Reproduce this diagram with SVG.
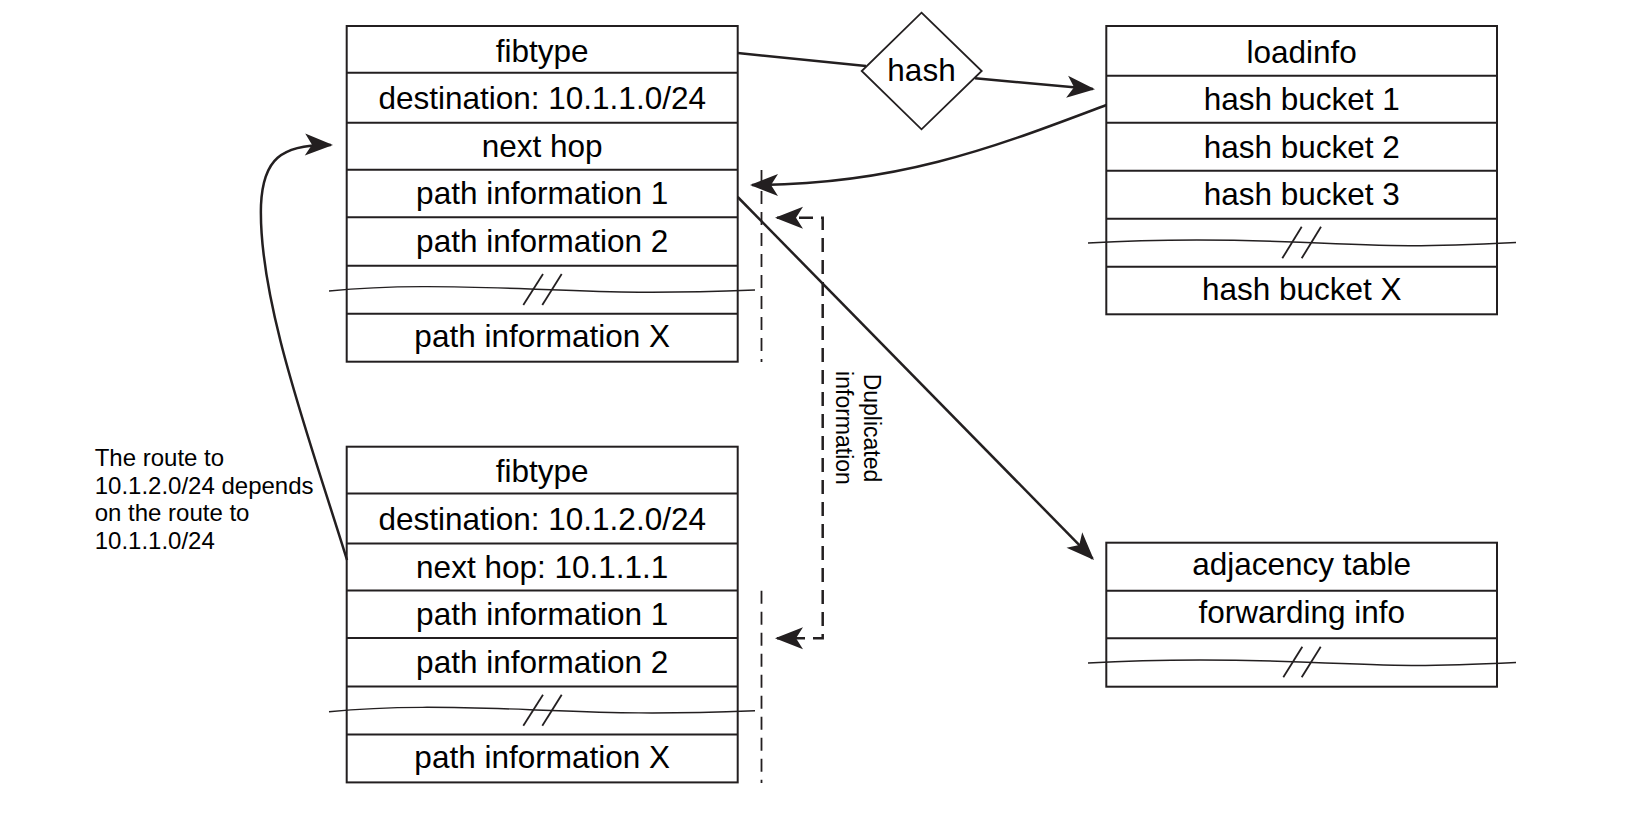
<svg xmlns="http://www.w3.org/2000/svg" width="1646" height="821" viewBox="0 0 1646 821">
<style>
.box{fill:#fff;stroke:#231f20;stroke-width:2}
.row{stroke:#231f20;stroke-width:2}
.t{font-family:"Liberation Sans",Arial,Helvetica,sans-serif;font-size:31.5px;fill:#000;text-anchor:middle}
.s{font-family:"Liberation Sans",Arial,Helvetica,sans-serif;font-size:24px;fill:#000}
.d{font-family:"Liberation Sans",Arial,Helvetica,sans-serif;font-size:23px;fill:#000;text-anchor:middle}
.sq{fill:none;stroke:#231f20;stroke-width:1.4}
.sl{stroke:#231f20;stroke-width:1.8}
.c{fill:none;stroke:#231f20;stroke-width:2.5}
.dash{fill:none;stroke:#231f20;stroke-width:1.8;stroke-dasharray:13 8}
.br{fill:none;stroke:#231f20;stroke-width:2.5;stroke-dasharray:14 8}
</style>
<defs>
<marker id="ah" markerUnits="userSpaceOnUse" markerWidth="30" markerHeight="24" refX="26" refY="11" orient="auto-start-reverse" overflow="visible">
<path d="M0,0 L28,11 L0,22 L7,11 Z" fill="#231f20" stroke="none"/>
</marker>
</defs>

<g id="fib1">
<rect class="box" x="346.7" y="26" width="391" height="335.7"/>
<line class="row" x1="346.7" y1="72.7" x2="737.7" y2="72.7"/>
<line class="row" x1="346.7" y1="122.7" x2="737.7" y2="122.7"/>
<line class="row" x1="346.7" y1="169.7" x2="737.7" y2="169.7"/>
<line class="row" x1="346.7" y1="217.3" x2="737.7" y2="217.3"/>
<line class="row" x1="346.7" y1="265.7" x2="737.7" y2="265.7"/>
<line class="row" x1="346.7" y1="313.7" x2="737.7" y2="313.7"/>
<text class="t" x="542.2" y="61.7">fibtype</text>
<text class="t" x="542.2" y="109.3">destination: 10.1.1.0/24</text>
<text class="t" x="542.2" y="156.7">next hop</text>
<text class="t" x="542.2" y="204">path information 1</text>
<text class="t" x="542.2" y="252.3">path information 2</text>
<text class="t" x="542.2" y="346.7">path information X</text>
<path class="sq" d="M329,291 C390,285 450,286 530,289 S650,294 755,290"/>
<line class="sl" x1="523.3" y1="305" x2="543" y2="274"/>
<line class="sl" x1="542.3" y1="305" x2="561.7" y2="274"/>
<line class="dash" x1="761.5" y1="170" x2="761.5" y2="362"/>
</g>

<g id="fib2">
<rect class="box" x="346.7" y="446.7" width="391" height="335.7"/>
<line class="row" x1="346.7" y1="493.4" x2="737.7" y2="493.4"/>
<line class="row" x1="346.7" y1="543.4" x2="737.7" y2="543.4"/>
<line class="row" x1="346.7" y1="590.4" x2="737.7" y2="590.4"/>
<line class="row" x1="346.7" y1="638" x2="737.7" y2="638"/>
<line class="row" x1="346.7" y1="686.4" x2="737.7" y2="686.4"/>
<line class="row" x1="346.7" y1="734.4" x2="737.7" y2="734.4"/>
<text class="t" x="542.2" y="482">fibtype</text>
<text class="t" x="542.2" y="530">destination: 10.1.2.0/24</text>
<text class="t" x="542.2" y="577.6">next hop: 10.1.1.1</text>
<text class="t" x="542.2" y="624.7">path information 1</text>
<text class="t" x="542.2" y="673">path information 2</text>
<text class="t" x="542.2" y="767.8">path information X</text>
<path class="sq" d="M329,711.7 C390,705.7 450,706.7 530,709.7 S650,714.7 755,710.7"/>
<line class="sl" x1="523.3" y1="725.7" x2="543" y2="694.7"/>
<line class="sl" x1="542.3" y1="725.7" x2="561.7" y2="694.7"/>
<line class="dash" x1="761.5" y1="590.7" x2="761.5" y2="783"/>
</g>

<g id="hash">
<polygon points="921.5,12.7 981.7,71 921.5,129.3 861.7,71" fill="#fff" stroke="#231f20" stroke-width="1.8"/>
<text class="t" x="921.5" y="80.7">hash</text>
</g>

<g id="loadinfo">
<rect class="box" x="1106.3" y="26" width="390.7" height="288.3"/>
<line class="row" x1="1106.3" y1="75.7" x2="1497" y2="75.7"/>
<line class="row" x1="1106.3" y1="122.7" x2="1497" y2="122.7"/>
<line class="row" x1="1106.3" y1="170.7" x2="1497" y2="170.7"/>
<line class="row" x1="1106.3" y1="218.7" x2="1497" y2="218.7"/>
<line class="row" x1="1106.3" y1="266.7" x2="1497" y2="266.7"/>
<text class="t" x="1301.7" y="62.7">loadinfo</text>
<text class="t" x="1301.7" y="110">hash bucket 1</text>
<text class="t" x="1301.7" y="157.7">hash bucket 2</text>
<text class="t" x="1301.7" y="205">hash bucket 3</text>
<text class="t" x="1301.7" y="300">hash bucket X</text>
<path class="sq" d="M1088,243 C1140,240 1200,238 1300,242.3 S1420,247 1516,242.5"/>
<line class="sl" x1="1282.3" y1="258.3" x2="1301.7" y2="226.7"/>
<line class="sl" x1="1301.7" y1="258.3" x2="1321" y2="226.7"/>
</g>

<g id="adjacency">
<rect class="box" x="1106.3" y="542.7" width="390.7" height="144"/>
<line class="row" x1="1106.3" y1="590.7" x2="1497" y2="590.7"/>
<line class="row" x1="1106.3" y1="638.3" x2="1497" y2="638.3"/>
<text class="t" x="1301.7" y="575">adjacency table</text>
<text class="t" x="1301.7" y="623.3">forwarding info</text>
<path class="sq" d="M1088,663 C1140,660 1200,658 1300,662 S1420,667 1516,662.5"/>
<line class="sl" x1="1283.3" y1="677.3" x2="1302.3" y2="646.7"/>
<line class="sl" x1="1301.7" y1="677.3" x2="1320.7" y2="646.7"/>
</g>

<g id="annotation">
<text class="s" x="94.7" y="466">The route to</text>
<text class="s" x="94.7" y="493.5">10.1.2.0/24 depends</text>
<text class="s" x="94.7" y="521">on the route to</text>
<text class="s" x="94.7" y="548.5">10.1.1.0/24</text>
</g>

<g id="duplicated">
<text class="d" transform="translate(864,428) rotate(90)">Duplicated</text>
<text class="d" transform="translate(836,428) rotate(90)">information</text>
</g>

<g id="connectors">
<path class="c" d="M737.7,53 L866,66"/>
<path class="c" d="M975,78.3 L1093,89.1" marker-end="url(#ah)"/>
<path class="c" d="M1106.3,105 C1000,145 900,185 752,185" marker-end="url(#ah)"/>
<path class="c" d="M737.7,197 L1092.6,558.6" marker-end="url(#ah)"/>
<path class="c" d="M347,560 C310,440 258,300 261,205 C263,160 280,144 331,145" marker-end="url(#ah)"/>
<path class="br" d="M777,217.7 H822.7 V638.3 H777" marker-start="url(#ah)" marker-end="url(#ah)"/>
</g>
</svg>
